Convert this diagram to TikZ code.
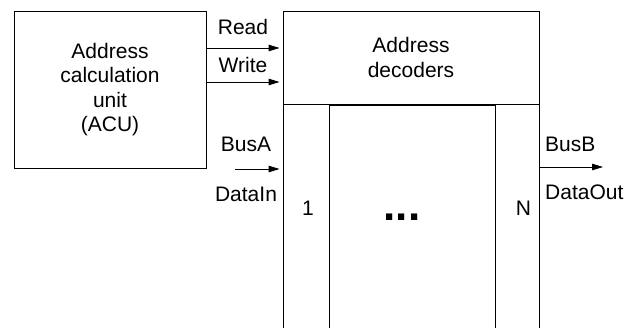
\documentclass[tikz,border=0pt]{standalone}
\usepackage{fontspec}
\setmainfont{Liberation Sans}
\usetikzlibrary{arrows.meta}
\tikzset{
  memory box/.style={draw=black,line width=0.9pt,inner sep=0pt,align=center},
  memory arrow/.style={-{Triangle[length=11pt,width=6.5pt]},line width=0.9pt,draw=black,shorten >=3pt},
  memory label/.style={anchor=base,inner sep=0pt}
}

\begin{document}
\begin{tikzpicture}[x=1pt,y=-1pt,font=\fontsize{21}{24.5}\selectfont]
  \useasboundingbox (0,0) rectangle (638,328);
  \clip (0,0) rectangle (638,328);
  \node[memory box,minimum width=192pt,minimum height=157pt] (acu) at (110,89.5)
    {Address\\calculation\\unit\\(ACU)};
  \node[memory box,minimum width=256pt,minimum height=93pt] (dec) at (411,57.5)
    {Address\\decoders};
  \node[memory box,minimum width=46pt,minimum height=241pt] (col1) at (306,224.5) {};
  \node[memory box,minimum width=166pt,minimum height=240pt] (colmid) at (412,225.2) {};
  \node[memory box,minimum width=44pt,minimum height=241pt] (colN) at (517,224.5) {};
  \coordinate (read) at (0,48);
  \coordinate (write) at (0,82);
  \coordinate (busAstart) at (235,169);
  \coordinate (busBend) at (606,167);
  \draw[memory arrow] (acu.east |- read) -- (dec.west |- read);
  \draw[memory arrow] (acu.east |- write) -- (dec.west |- write);
  \draw[memory arrow] (busAstart) -- (col1.west |- busAstart);
  \draw[memory arrow] (colN.east |- busBend) -- (busBend);
  \node[memory label] (readlbl) at (243,35) {Read};
  \node[memory label] (writelbl) at (243,73) {Write};
  \node[memory label] (busAlbl) at (246,152) {BusA};
  \node[memory label] (datainlbl) at (246,202) {DataIn};
  \node[memory label,anchor=base west] (busBlbl) at (545,152) {BusB};
  \node[memory label,anchor=base west] (dataoutlbl) at (545,200) {DataOut};
  \node[memory label] (onelbl) at (308,216) {1};
  \node[memory label] (Nlbl) at (523.5,216) {N};
  \node[memory label,font=\fontsize{44}{44}\selectfont\bfseries] (dots) at (402,221) {...};
\end{tikzpicture}
\end{document}
